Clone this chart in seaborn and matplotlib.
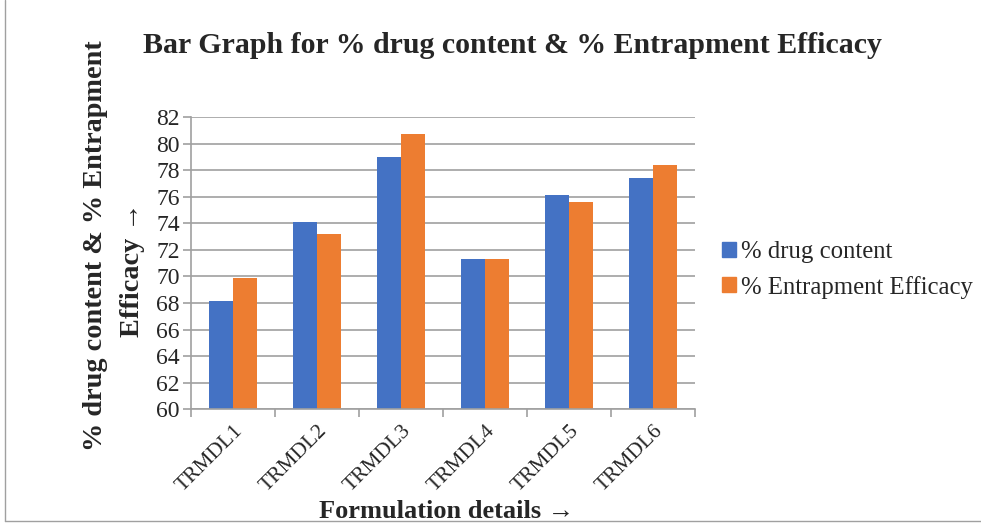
import pandas as pd
import seaborn as sns
import matplotlib.pyplot as plt
from matplotlib.lines import Line2D
from matplotlib.patches import Patch

"""Values read off the reference bar chart."""
formulations = ["TRMDL1", "TRMDL2", "TRMDL3", "TRMDL4", "TRMDL5", "TRMDL6"]
drug_content = [68.15, 74.1, 79.0, 71.3, 76.1, 77.4]
entrapment = [69.9, 73.2, 80.7, 71.33, 75.6, 78.4]
series_names = ["% drug content", "% Entrapment Efficacy"]
colors = ["#4472C4", "#ED7D31"]

df = pd.DataFrame({
    "Formulation": formulations * 2,
    "Value": drug_content + entrapment,
    "Series": [series_names[0]] * 6 + [series_names[1]] * 6,
})

sns.set_style("white")
plt.rcParams['font.family'] = ['Liberation Serif', 'DejaVu Serif']

fig = plt.figure(figsize=(9.81, 5.23), dpi=100)
ax = fig.add_axes([0.1947, 0.2175, 0.5138, 0.5585])

sns.barplot(data=df, x="Formulation", y="Value", hue="Series",
            palette=colors, width=0.57, saturation=1, ax=ax, legend=False,
            linewidth=0)

"""Axis styling in the spirit of an Excel chart."""
ax.set_ylim(60, 82)
ax.set_yticks(range(60, 83, 2))
ax.set_xlim(-0.5, 5.5)
ax.yaxis.grid(True, color="#a0a0a0", linewidth=1.2)
ax.set_axisbelow(True)
for s in ["top", "right"]:
    ax.spines[s].set_visible(False)
for s in ["left", "bottom"]:
    ax.spines[s].set_color("#a0a0a0")
    ax.spines[s].set_linewidth(1.2)

ax.tick_params(axis="y", which="major", length=6, color="#a0a0a0", width=1.2,
               labelsize=17, pad=2, left=True)
ax.set_xticks(range(6))
ax.set_xticklabels(formulations, rotation=45, ha="right", rotation_mode="anchor")
ax.set_xticks([i - 0.5 for i in range(7)], minor=True)
ax.tick_params(axis="x", which="major", length=0, labelsize=15.5, pad=9)
ax.tick_params(axis="x", which="minor", length=6, color="#a0a0a0", width=1.2,
               bottom=True)

ax.set_xlabel("")
ax.set_ylabel("")

fig.text(0.522, 0.913, "Bar Graph for % drug content & % Entrapment Efficacy",
         ha="center", va="center", fontsize=21.5, fontweight="bold")
fig.text(0.097, 0.53, "% drug content & % Entrapment", rotation=90,
         ha="center", va="center", fontsize=20.3, fontweight="bold")
fig.text(0.135, 0.484, "Efficacy \u2192", rotation=90,
         ha="center", va="center", fontsize=20.3, fontweight="bold")
fig.text(0.455, 0.022, "Formulation details \u2192",
         ha="center", va="center", fontsize=19, fontweight="bold")

handles = [Patch(color=c) for c in colors]
fig.legend(handles, series_names, loc="center left", bbox_to_anchor=(0.736, 0.484),
           frameon=False, fontsize=17.8, handlelength=0.55, handleheight=0.55,
           handletextpad=0.2, labelspacing=0.5, borderpad=0, borderaxespad=0)

"""Border lines of the original picture."""
fig.add_artist(Line2D([0.005, 0.005], [0.004, 1.0], color="#a0a0a0", linewidth=1))
fig.add_artist(Line2D([0.005, 1.0], [0.004, 0.004], color="#a0a0a0", linewidth=1))

plt.savefig("out.png", dpi=100)
